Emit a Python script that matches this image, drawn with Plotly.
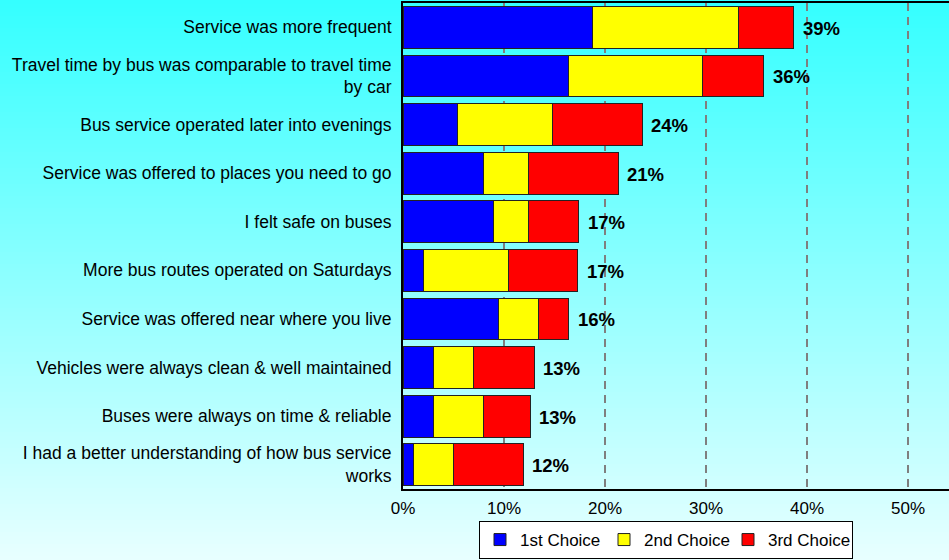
import plotly.graph_objects as go

# Survey: what would make respondents ride the bus more (share of respondents, %)
categories = [
    "Service was more frequent",
    "Travel time by bus was comparable to travel time<br>by car",
    "Bus service operated later into evenings",
    "Service was offered to places you need to go",
    "I felt safe on buses",
    "More bus routes operated on Saturdays",
    "Service was offered near where you live",
    "Vehicles were always clean & well maintained",
    "Buses were always on time & reliable",
    "I had a better understanding of how bus service<br>works",
]
first_choice = [18.8, 16.4, 5.4, 8.0, 9.0, 2.0, 9.5, 3.0, 3.0, 1.0]
second_choice = [14.4, 13.3, 9.4, 4.4, 3.4, 8.4, 3.9, 4.0, 5.0, 4.0]
third_choice = [5.5, 6.0, 8.9, 8.9, 5.0, 6.9, 3.0, 6.0, 4.6, 6.9]
x_ticks = [0, 10, 20, 30, 40, 50]
x_tick_labels = ["0%", "10%", "20%", "30%", "40%", "50%"]

series = [
    ("1st Choice", first_choice, "#0000FF"),
    ("2nd Choice", second_choice, "#FFFF00"),
    ("3rd Choice", third_choice, "#FF0000"),
]

W, H = 949, 560
ML, MR, MT, MB = 403, 0, 3, 71
PX_PER_PCT = 10.1
plot_w = W - ML - MR
plot_h = H - MT - MB

fig = go.Figure()
for name, vals, color in series:
    fig.add_trace(go.Bar(
        name=name, y=categories, x=vals, orientation="h",
        marker=dict(color=color, line=dict(color="#222222", width=1)),
        hoverinfo="x+y",
    ))

# total labels at the end of each stacked bar
totals = [a + b + c for a, b, c in zip(first_choice, second_choice, third_choice)]
annotations = [
    dict(x=t, y=cat, xref="x", yref="y", text=f"{round(t):d}%",
         showarrow=False, xanchor="left", xshift=7, yshift=-1,
         font=dict(family="Arial, Liberation Sans, sans-serif", size=18.5,
                   color="#000000", weight="bold"))
    for t, cat in zip(totals, categories)
]

# vertical cyan gradient behind everything (paper coordinates spanning the full canvas)
shapes = []
n_strips = 140
x0p = -ML / plot_w
x1p = 1 + MR / plot_w
for i in range(n_strips):
    top_px = H * i / n_strips
    bot_px = H * (i + 1) / n_strips
    frac = (i + 0.5) / n_strips
    r = int(round(52 + (232 - 52) * frac))
    y_top = 1 - (top_px - MT) / plot_h
    y_bot = 1 - (bot_px - MT) / plot_h
    shapes.append(dict(
        type="rect", xref="paper", yref="paper", layer="below",
        x0=x0p, x1=x1p, y0=y_bot - 0.002, y1=y_top,
        fillcolor=f"rgb({r},255,255)", line=dict(width=0),
    ))

font_family = "Arial, Liberation Sans, sans-serif"

fig.update_layout(
    width=W, height=H,
    margin=dict(l=ML, r=MR, t=MT, b=MB, pad=0, autoexpand=False),
    paper_bgcolor="rgb(232,255,255)",
    plot_bgcolor="#FFFFFF",
    barmode="stack",
    bargap=0.14,
    font=dict(family=font_family, size=17.5, color="#000000"),
    shapes=shapes,
    annotations=annotations,
    showlegend=True,
    legend=dict(
        orientation="h",
        traceorder="normal",
        xref="container", yref="container",
        x=666 / W, xanchor="center",
        y=1 / H, yanchor="bottom",
        bgcolor="#FFFFFF", bordercolor="#000000", borderwidth=1,
        font=dict(family=font_family, size=17, color="#000000"),
        itemwidth=30, tracegroupgap=0,
        entrywidth=79, entrywidthmode="pixels",
    ),
    xaxis=dict(
        range=[0, plot_w / PX_PER_PCT],
        tickmode="array", tickvals=x_ticks, ticktext=x_tick_labels,
        showgrid=True, gridcolor="#7F7F7F", gridwidth=1.5, griddash="8px,6px",
        zeroline=False,
        showline=True, linecolor="#000000", linewidth=2, mirror=True,
        ticks="", ticklabelstandoff=3,
        tickfont=dict(family=font_family, size=17, color="#000000"),
        fixedrange=True,
    ),
    yaxis=dict(
        categoryorder="array", categoryarray=categories,
        autorange="reversed",
        showgrid=False, zeroline=False,
        showline=True, linecolor="#000000", linewidth=2,
        ticks="", ticklabelstandoff=6,
        tickfont=dict(family=font_family, size=17.5, color="#000000"),
        fixedrange=True,
    ),
)

fig.write_html("out.html", config=dict(displayModeBar=False))
